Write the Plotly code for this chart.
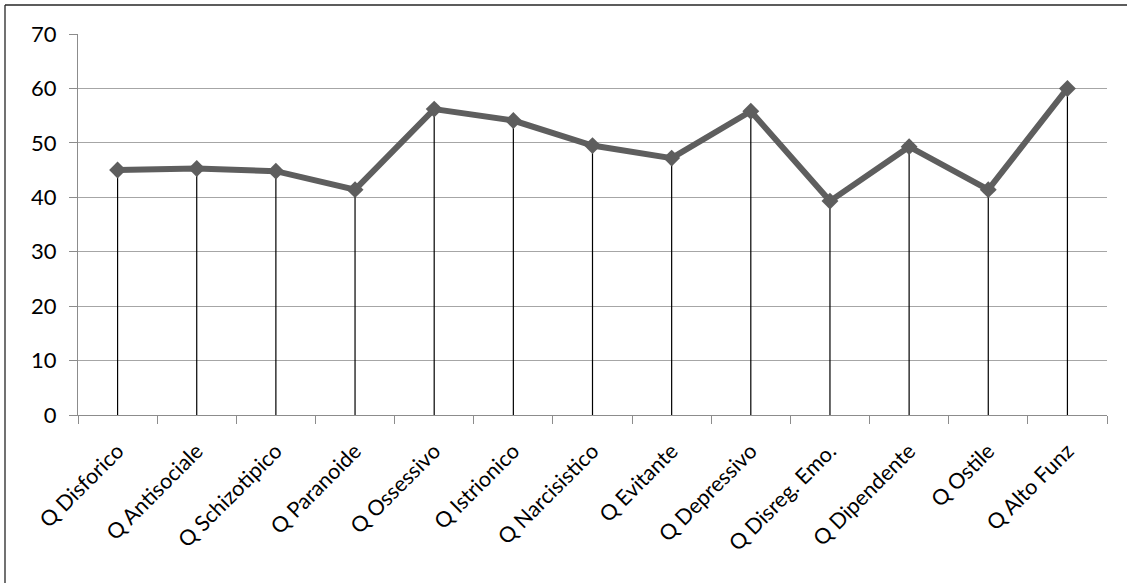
import plotly.graph_objects as go

categories = [
    "Q Disforico", "Q Antisociale", "Q Schizotipico", "Q Paranoide",
    "Q Ossessivo", "Q Istrionico", "Q Narcisistico", "Q Evitante",
    "Q Depressivo", "Q Disreg. Emo.", "Q Dipendente", "Q Ostile", "Q Alto Funz",
]
scores = [45.0, 45.3, 44.8, 41.4, 56.2, 54.1, 49.5, 47.2, 55.8, 39.3, 49.3, 41.4, 60.0]

y_ticks = [0, 10, 20, 30, 40, 50, 60, 70]

line_grey = "#5e5e5e"
axis_grey = "#8c8c8c"
font_family = "Lato, Open Sans, sans-serif"

# plot-area geometry in pixels, used for the frame lines
PLOT_W = 1127 - 78 - 20
PLOT_H = 583 - 34 - 168

fig = go.Figure()

# Drop lines from each point down to zero, drawn as one-sided error bars
fig.add_trace(go.Scatter(
    x=categories,
    y=scores,
    mode="markers",
    marker=dict(size=1, color="rgba(0,0,0,0)"),
    error_y=dict(
        type="data",
        symmetric=False,
        array=[0] * len(scores),
        arrayminus=scores,
        color="black",
        thickness=1.2,
        width=0,
    ),
    hoverinfo="skip",
    showlegend=False,
))

# Main series
fig.add_trace(go.Scatter(
    x=categories,
    y=scores,
    mode="lines+markers",
    line=dict(color=line_grey, width=6),
    marker=dict(symbol="diamond", size=13, color=line_grey),
    showlegend=False,
))

frame_x = (5 - 78) / PLOT_W
frame_y = 1 + (34 - 5) / PLOT_H

fig.update_layout(
    width=1127,
    height=583,
    margin=dict(l=78, r=20, t=34, b=168),
    paper_bgcolor="white",
    plot_bgcolor="white",
    font=dict(family=font_family, size=21, color="black"),
    shapes=[
        dict(type="line", xref="paper", yref="paper",
             x0=frame_x, x1=frame_x, y0=frame_y, y1=-2,
             line=dict(color="#262626", width=1.3)),
        dict(type="line", xref="paper", yref="paper",
             x0=frame_x, x1=2, y0=frame_y, y1=frame_y,
             line=dict(color="#262626", width=1.3)),
    ],
)

fig.update_xaxes(
    type="category",
    range=[-0.5, len(categories) - 0.5],
    tickangle=-45,
    tickson="boundaries",
    ticks="outside",
    ticklen=8,
    tickcolor=axis_grey,
    showline=True,
    linecolor=axis_grey,
    linewidth=1,
    showgrid=False,
    tickfont=dict(size=21.5),
    ticklabelstandoff=14,
)

fig.update_yaxes(
    range=[0, 70],
    tickvals=y_ticks,
    ticks="outside",
    ticklen=8,
    tickcolor=axis_grey,
    showline=True,
    linecolor=axis_grey,
    linewidth=1,
    showgrid=True,
    gridcolor="#a6a6a6",
    gridwidth=1,
    zeroline=False,
    tickfont=dict(size=22),
    ticklabelstandoff=8,
)

fig.write_html("out.html")
